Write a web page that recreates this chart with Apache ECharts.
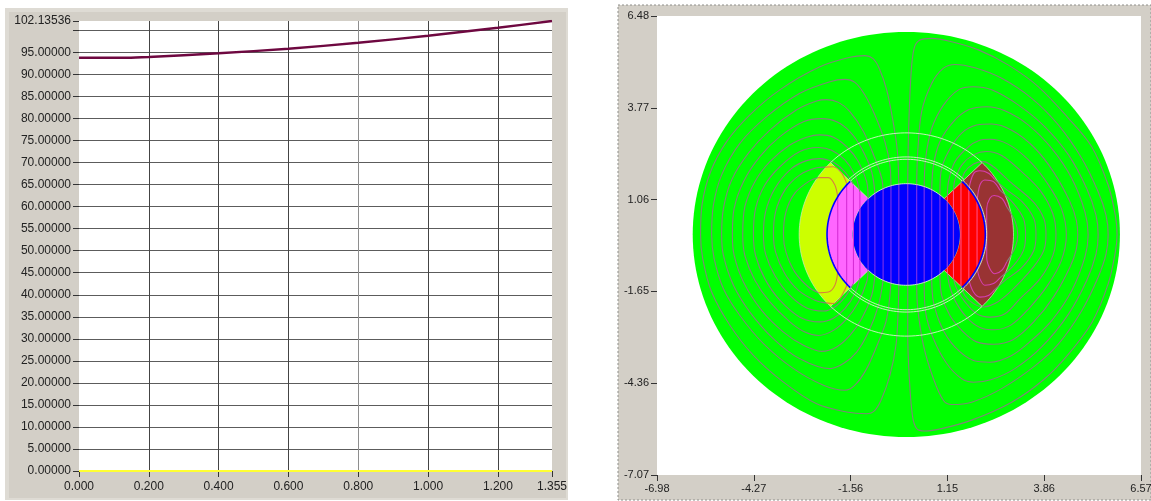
<!DOCTYPE html>
<html>
<head>
<meta charset="utf-8">
<title>Air gap curve and flux plot</title>
<script src="https://cdn.jsdelivr.net/npm/echarts@6/dist/echarts.min.js"></script>
<style>
  html, body { margin: 0; padding: 0; background: #fff; }
  #chart { width: 1151px; height: 501px; }
</style>
</head>
<body>
<div id="chart"></div>
<script>
// left plot
const curveX = [0, 0.1, 0.137, 0.2, 0.4, 0.6, 0.8, 1.0, 1.2, 1.355];
const curveY = [93.8, 93.8, 93.8, 93.96, 94.8, 95.85, 97.2, 98.8, 100.6, 102.13536];
const baseX = [0, 1.355];
const baseY = [0, 0];
const leftXTicks = [0, 0.2, 0.4, 0.6, 0.8, 1.0, 1.2, 1.355];
const leftYTicks = [0, 5, 10, 15, 20, 25, 30, 35, 40, 45, 50, 55, 60, 65, 70, 75, 80, 85, 90, 95, 100, 102.13536];
const leftYLabels = leftYTicks.filter((v) => v !== 100);

// right plot
const rightXTicks = [-6.98, -4.27, -1.56, 1.15, 3.86, 6.57];
const rightYTicks = [-7.07, -4.36, -1.65, 1.06, 3.77, 6.48];
const fieldCentre = [0, 0.03];

// regions: inner radius, outer radius, from angle, to angle
const regionNames = ["stator", "leftMagnet", "rightMagnet", "leftPole", "rightPole", "rotor"];
const regionRows = [
  [0, 5.98, 0, 360],
  [2.22, 3.0, 135, 225],
  [2.22, 3.0, -45, 45],
  [1.5, 2.22, 135, 225],
  [1.5, 2.22, -45, 45],
  [0, 1.5, 0, 360]
];

// arcs: radius, from angle, to angle
const whiteArcs = [
  [3.0, 45, 135], [3.0, 225, 315],
  [2.22, 45, 135], [2.22, 225, 315],
  [2.29, 45, 135], [2.29, 225, 315],
  [2.25, -45, 45],
  [1.5, 45, 135], [1.5, 225, 315]
];
const blueArcs = [[2.22, 135, 225], [2.21, -45, 45]];

// flux lines over the green part
const loopL1 = [[-0.21,1.51],[-0.25,2.48],[-0.37,3.36],[-0.55,4.30],[-0.76,4.94],[-0.94,5.23],[-1.16,5.31],[-1.58,5.26],[-2.42,4.98],[-3.54,4.30],[-4.38,3.56],[-5.03,2.77],[-5.48,1.88],[-5.72,0.90],[-5.76,0.02],[-5.70,-0.68],[-5.45,-1.67],[-4.94,-2.65],[-4.28,-3.54],[-3.44,-4.33],[-2.51,-4.97],[-1.67,-5.21],[-1.11,-5.26],[-0.88,-5.16],[-0.69,-4.82],[-0.46,-4.13],[-0.29,-3.24],[-0.23,-2.26],[-0.21,-1.45]];
const loopL2 = [[-0.43,1.47],[-0.46,2.08],[-0.60,2.77],[-0.88,3.56],[-1.16,4.15],[-1.44,4.52],[-1.72,4.61],[-2.14,4.54],[-2.98,4.20],[-3.91,3.51],[-4.66,2.72],[-5.17,1.79],[-5.40,0.90],[-5.45,0.02],[-5.38,-0.68],[-5.12,-1.57],[-4.66,-2.36],[-4.00,-3.19],[-3.16,-3.93],[-2.32,-4.42],[-1.72,-4.57],[-1.44,-4.42],[-1.11,-3.93],[-0.78,-3.14],[-0.55,-2.46],[-0.43,-1.41]];
const loopL3 = [[-0.65,1.38],[-0.69,1.69],[-0.88,2.28],[-1.20,3.07],[-1.58,3.66],[-1.90,3.93],[-2.23,4.01],[-2.51,3.97],[-3.07,3.71],[-3.82,3.11],[-4.42,2.43],[-4.89,1.64],[-5.12,0.80],[-5.17,0.02],[-5.12,-0.59],[-4.84,-1.47],[-4.38,-2.26],[-3.72,-3.05],[-2.98,-3.64],[-2.14,-3.93],[-1.76,-3.78],[-1.39,-3.44],[-1.06,-2.85],[-0.78,-2.06],[-0.65,-1.32]];
const loopL4 = [[-0.88,1.24],[-0.97,1.88],[-1.25,2.57],[-1.58,3.07],[-1.95,3.36],[-2.37,3.45],[-2.88,3.36],[-3.54,2.92],[-4.10,2.33],[-4.56,1.59],[-4.82,0.80],[-4.87,0.02],[-4.82,-0.59],[-4.56,-1.37],[-4.05,-2.21],[-3.44,-2.85],[-2.88,-3.24],[-2.37,-3.42],[-1.95,-3.29],[-1.58,-2.95],[-1.25,-2.46],[-0.97,-1.77],[-0.88,-1.18]];
const loopL5 = [[-1.07,1.09],[-1.11,1.59],[-1.34,2.18],[-1.67,2.62],[-2.04,2.90],[-2.42,2.97],[-2.79,2.90],[-3.26,2.67],[-3.82,2.18],[-4.24,1.59],[-4.52,0.85],[-4.58,0.02],[-4.52,-0.59],[-4.24,-1.32],[-3.82,-1.96],[-3.26,-2.55],[-2.84,-2.85],[-2.46,-2.95],[-2.04,-2.80],[-1.67,-2.46],[-1.34,-1.96],[-1.11,-1.37],[-1.07,-1.03]];
const loopL6 = [[-1.30,1.29],[-1.44,1.79],[-1.72,2.23],[-2.09,2.52],[-2.46,2.60],[-2.98,2.48],[-3.54,2.03],[-3.96,1.49],[-4.22,0.80],[-4.28,0.02],[-4.22,-0.59],[-3.96,-1.28],[-3.54,-1.91],[-2.98,-2.41],[-2.42,-2.55],[-2.04,-2.44],[-1.72,-2.16],[-1.44,-1.72],[-1.30,-1.25]];
const loopL7 = [[-1.48,1.51],[-1.72,1.88],[-2.04,2.16],[-2.42,2.27],[-2.79,2.21],[-3.21,1.98],[-3.68,1.39],[-3.94,0.70],[-4.00,0.02],[-3.94,-0.54],[-3.68,-1.18],[-3.26,-1.77],[-2.79,-2.14],[-2.32,-2.23],[-2.00,-2.11],[-1.72,-1.82],[-1.48,-1.42]];
const loopL8 = [[-2.28,2.02],[-2.51,2.00],[-2.98,1.79],[-3.40,1.34],[-3.66,0.70],[-3.72,0.02],[-3.66,-0.49],[-3.40,-1.13],[-3.02,-1.62],[-2.56,-1.91],[-2.25,-1.99]];
const loopL9 = [[-2.46,1.71],[-2.74,1.59],[-3.12,1.25],[-3.37,0.70],[-3.44,0.02],[-3.37,-0.49],[-3.12,-1.08],[-2.74,-1.52],[-2.46,-1.69]];
const loopR1 = [[0.04,1.53],[0.06,2.97],[0.13,4.74],[0.22,5.53],[0.38,5.77],[0.71,5.82],[1.27,5.72],[2.02,5.48],[2.86,5.03],[3.70,4.39],[4.54,3.46],[5.19,2.62],[5.65,1.49],[5.85,0.60],[5.90,0.02],[5.85,-0.50],[5.65,-1.43],[5.20,-2.56],[4.54,-3.50],[3.85,-4.25],[2.95,-4.92],[1.83,-5.45],[0.99,-5.70],[0.52,-5.77],[0.29,-5.70],[0.17,-5.31],[0.08,-4.13],[0.04,-2.95],[0.04,-1.47]];
const loopR2 = [[0.29,1.50],[0.32,2.48],[0.43,3.66],[0.71,4.49],[1.04,4.94],[1.36,5.05],[1.92,4.95],[2.67,4.64],[3.51,4.05],[4.26,3.26],[4.91,2.28],[5.37,1.29],[5.59,0.60],[5.65,0.02],[5.59,-0.55],[5.37,-1.23],[4.91,-2.22],[4.26,-3.20],[3.60,-3.85],[2.67,-4.52],[1.83,-4.92],[1.27,-4.99],[1.04,-4.87],[0.76,-4.23],[0.48,-3.24],[0.32,-2.16],[0.29,-1.44]];
const loopR3 = [[0.50,1.44],[0.54,2.28],[0.71,3.16],[1.04,3.85],[1.46,4.30],[1.88,4.39],[2.39,4.30],[3.14,3.85],[3.88,3.21],[4.54,2.38],[5.05,1.39],[5.31,0.60],[5.37,0.02],[5.31,-0.55],[5.05,-1.33],[4.54,-2.32],[3.79,-3.29],[3.04,-3.93],[2.39,-4.25],[1.88,-4.33],[1.55,-4.23],[1.13,-3.78],[0.76,-3.05],[0.54,-2.26],[0.50,-1.38]];
const loopR4 = [[0.71,1.35],[0.76,2.08],[0.94,2.77],[1.32,3.36],[1.74,3.71],[2.25,3.80],[2.76,3.68],[3.42,3.26],[4.07,2.57],[4.63,1.69],[5.00,0.70],[5.09,0.02],[5.00,-0.64],[4.63,-1.63],[4.07,-2.51],[3.50,-3.10],[2.95,-3.54],[2.34,-3.74],[1.88,-3.69],[1.36,-3.29],[0.99,-2.70],[0.76,-1.96],[0.71,-1.29]];
const loopR5 = [[0.94,1.20],[0.97,1.88],[1.18,2.48],[1.55,3.02],[1.97,3.26],[2.39,3.29],[2.95,3.11],[3.56,2.62],[4.12,1.88],[4.58,1.00],[4.76,0.45],[4.80,0.02],[4.76,-0.40],[4.58,-0.94],[4.12,-1.82],[3.56,-2.56],[3.00,-3.07],[2.44,-3.21],[1.97,-3.14],[1.60,-2.85],[1.22,-2.36],[0.99,-1.77],[0.94,-1.14]];
const loopR6 = [[1.15,1.15],[1.18,1.59],[1.36,2.18],[1.74,2.62],[2.02,2.80],[2.34,2.84],[2.86,2.69],[3.42,2.23],[3.95,1.54],[4.34,0.80],[4.48,0.02],[4.34,-0.74],[3.95,-1.48],[3.42,-2.17],[2.95,-2.63],[2.48,-2.78],[2.16,-2.75],[1.78,-2.51],[1.41,-2.01],[1.22,-1.52],[1.15,-1.12]];
const loopR7 = [[1.32,1.32],[1.36,1.64],[1.55,2.08],[1.88,2.38],[2.25,2.48],[2.67,2.36],[3.18,1.93],[3.74,1.34],[4.10,0.65],[4.19,0.02],[4.10,-0.60],[3.74,-1.28],[3.18,-1.87],[2.76,-2.31],[2.34,-2.41],[1.97,-2.31],[1.64,-1.96],[1.41,-1.57],[1.32,-1.27]];
const loopR8 = [[1.53,1.53],[1.64,1.88],[1.88,2.11],[2.16,2.18],[2.44,2.03],[2.90,1.59],[3.55,1.00],[3.85,0.50],[3.91,0.02],[3.85,-0.44],[3.55,-0.94],[2.90,-1.67],[2.48,-2.01],[2.16,-2.11],[1.88,-2.01],[1.64,-1.77],[1.53,-1.47]];
const loopR9 = [[2.46,1.67],[2.76,1.39],[3.24,1.00],[3.57,0.50],[3.63,0.02],[3.57,-0.44],[3.24,-0.94],[2.76,-1.33],[2.46,-1.61]];
const loopR10 = [[2.62,1.34],[3.00,0.95],[3.28,0.50],[3.34,0.02],[3.28,-0.44],[3.00,-0.89],[2.62,-1.25]];
const loopR11 = [[2.81,0.85],[3.05,0.41],[3.12,0.02],[3.05,-0.35],[2.81,-0.78]];
const greenLoops = [loopL1, loopL2, loopL3, loopL4, loopL5, loopL6, loopL7, loopL8, loopL9,
  loopR1, loopR2, loopR3, loopR4, loopR5, loopR6, loopR7, loopR8, loopR9, loopR10, loopR11];

// the same lines where they run through the magnets
const yellowArcs = [
  [[-2.28,2.02],[-2.04,2.03],[-1.81,1.84],[-1.67,1.54]],
  [[-2.25,-1.99],[-2.04,-2.01],[-1.86,-1.86],[-1.73,-1.62],[-1.67,-1.49]],
  [[-2.46,1.71],[-2.18,1.71],[-2.00,1.49],[-1.92,1.13]],
  [[-2.46,-1.69],[-2.18,-1.67],[-2.00,-1.47],[-1.92,-1.08]]
];
const brownArcs = [
  [[1.75,1.37],[1.88,1.82],[2.06,1.91],[2.30,1.84],[2.46,1.67]],
  [[2.46,-1.61],[2.30,-1.77],[2.06,-1.82],[1.88,-1.67],[1.75,-1.31]],
  [[1.98,1.00],[2.06,1.49],[2.20,1.64],[2.44,1.59],[2.62,1.34]],
  [[2.62,-1.25],[2.44,-1.42],[2.20,-1.47],[2.06,-1.28],[1.98,-0.96]],
  [[2.81,0.85],[2.67,1.10],[2.46,1.18],[2.34,1.10],[2.25,0.80],[2.25,0.02],[2.25,-0.64],[2.34,-0.98],[2.48,-1.13],[2.67,-1.03],[2.81,-0.78]]
];

// straight runs: x, top y, bottom y
const pinkRuns = [[-1.92,1.13,-1.08],[-1.67,1.54,-1.49],[-1.48,1.48,-1.42],[-1.30,1.29,-1.25]];
const redRuns = [[1.15,1.15,-1.12],[1.32,1.32,-1.27],[1.53,1.53,-1.47],[1.75,1.37,-1.31],[1.98,1.00,-0.96]];
const rotorRuns = [[-1.30,0.78,-0.72],[-1.07,1.09,-1.03],[-0.88,1.24,-1.18],[-0.65,1.38,-1.32],[-0.43,1.47,-1.41],[-0.21,1.51,-1.45],[0.04,1.53,-1.47],[0.29,1.50,-1.44],[0.50,1.44,-1.38],[0.71,1.35,-1.29],[0.94,1.20,-1.14],[1.15,0.99,-0.93],[1.32,0.74,-0.68]];

const regionColors = { stator: "#00ff00", leftMagnet: "#ccff00", rightMagnet: "#993333", leftPole: "#ff66ff", rightPole: "#ff0000", rotor: "#0000ff" };

const panelBg = "#d3cfc7";
const textCol = "#222";
const fontName = '"Liberation Sans", Arial, sans-serif';

function pointAt(api, r, deg) {
  const a = (deg * Math.PI) / 180;
  return api.coord([fieldCentre[0] + r * Math.cos(a), fieldCentre[1] + r * Math.sin(a)]);
}

function arcPoints(api, r, from, to) {
  const pts = [];
  const steps = Math.max(8, Math.round(Math.abs(to - from) / 2));
  for (let i = 0; i <= steps; i++) pts.push(pointAt(api, r, from + ((to - from) * i) / steps));
  return pts;
}

const regionSeries = {
  type: "custom",
  xAxisIndex: 1,
  yAxisIndex: 1,
  silent: true,
  clip: false,
  z: 2,
  data: regionRows,
  renderItem(params, api) {
    const name = regionNames[params.dataIndex];
    const row = regionRows[params.dataIndex];
    let pts = arcPoints(api, row[1], row[2], row[3]);
    if (row[0] > 0) pts = pts.concat(arcPoints(api, row[0], row[3], row[2]));
    const edged = row[0] > 0;
    return {
      type: "polygon",
      shape: { points: pts },
      style: { fill: regionColors[name], stroke: edged ? "#d4e6c6" : null, lineWidth: edged ? 0.7 : 0 }
    };
  }
};

function arcSeries(rows, color, width) {
  return {
    type: "custom",
    xAxisIndex: 1,
    yAxisIndex: 1,
    silent: true,
    clip: false,
    z: 5,
    data: rows,
    renderItem(params, api) {
      const row = rows[params.dataIndex];
      return {
        type: "polyline",
        shape: { points: arcPoints(api, row[0], row[1], row[2]) },
        style: { fill: null, stroke: color, lineWidth: width }
      };
    }
  };
}

function fieldLine(points, color, z) {
  return {
    type: "line",
    xAxisIndex: 1,
    yAxisIndex: 1,
    data: points,
    smooth: 0.33,
    symbol: "none",
    silent: true,
    z: z,
    lineStyle: { color: color, width: 1.1 }
  };
}

function runLines(runs, color, z) {
  return runs.map((r) => fieldLine([[r[0], r[1]], [r[0], r[2]]], color, z));
}

const tickStyle = { show: true, length: 6, lineStyle: { color: "#333", width: 1 } };
const hiddenLine = { show: false, onZero: false };

const option = {
  animation: false,
  backgroundColor: "#fff",
  textStyle: { fontFamily: fontName },
  graphic: [
    { type: "rect", z: -10, shape: { x: 5, y: 8, width: 563, height: 492 }, style: { fill: "#dedbd4" } },
    { type: "rect", z: -9, shape: { x: 9, y: 12, width: 557, height: 486 }, style: { fill: panelBg } },
    { type: "rect", z: -10, shape: { x: 618, y: 5, width: 533, height: 495 }, style: { fill: panelBg, stroke: "#8f8f8b", lineWidth: 1, lineDash: [2, 2] } }
  ],
  grid: [
    { left: 79, top: 21, width: 473, height: 450, show: true, backgroundColor: "#fff", borderWidth: 0, outerBoundsMode: "none" },
    { left: 657, top: 16, width: 484, height: 459, show: true, backgroundColor: "#fff", borderWidth: 0, outerBoundsMode: "none" }
  ],
  xAxis: [
    {
      type: "value", gridIndex: 0, min: 0, max: 1.355,
      axisLine: hiddenLine,
      axisTick: Object.assign({ customValues: leftXTicks }, tickStyle),
      axisLabel: { customValues: leftXTicks, color: textCol, fontSize: 12, margin: 10, fontFamily: fontName, formatter: (v) => v.toFixed(3) },
      splitLine: { show: true, showMinLine: false, showMaxLine: false, lineStyle: { color: ["#444", "#444", "#444", "#8e8e8e", "#444", "#444", "#8e8e8e", "#444"], width: 1 } }
    },
    {
      type: "value", gridIndex: 1, min: -6.98, max: 6.57,
      axisLine: hiddenLine,
      axisTick: Object.assign({ customValues: rightXTicks }, tickStyle),
      axisLabel: { customValues: rightXTicks, color: textCol, fontSize: 11, margin: 8, fontFamily: fontName, formatter: (v) => v.toFixed(2) },
      splitLine: { show: false }
    }
  ],
  yAxis: [
    {
      type: "value", gridIndex: 0, min: 0, max: 102.13536,
      axisLine: hiddenLine,
      axisTick: Object.assign({ customValues: leftYTicks }, tickStyle),
      axisLabel: { customValues: leftYLabels, color: textCol, fontSize: 12, margin: 8, fontFamily: fontName, formatter: (v) => v.toFixed(5) },
      splitLine: { show: true, showMinLine: false, showMaxLine: false, lineStyle: { color: "#5c5c5c", width: 1 } }
    },
    {
      type: "value", gridIndex: 1, min: -7.07, max: 6.48,
      axisLine: hiddenLine,
      axisTick: Object.assign({ customValues: rightYTicks }, tickStyle),
      axisLabel: { customValues: rightYTicks, color: textCol, fontSize: 11, margin: 8, fontFamily: fontName, formatter: (v) => v.toFixed(2) },
      splitLine: { show: false }
    }
  ],
  series: [
    {
      type: "line", xAxisIndex: 0, yAxisIndex: 0, symbol: "none", silent: true, smooth: 0.3, z: 4,
      data: curveX.map((x, i) => [x, curveY[i]]),
      lineStyle: { color: "#6e0840", width: 2.4 }
    },
    {
      type: "line", xAxisIndex: 0, yAxisIndex: 0, symbol: "none", silent: true, z: 5, clip: false,
      data: baseX.map((x, i) => [x, baseY[i]]),
      lineStyle: { color: "#ffff33", width: 2 }
    },
    regionSeries,
    ...greenLoops.map((l) => fieldLine(l, "#7f8578", 3)),
    ...yellowArcs.map((l) => fieldLine(l, "#d8803c", 3)),
    ...brownArcs.map((l) => fieldLine(l, "#d63fb0", 3)),
    ...runLines(pinkRuns, "#d62ed6", 3),
    ...runLines(redRuns, "#ff4d88", 3),
    ...runLines(rotorRuns, "#8030e8", 3),
    arcSeries(whiteArcs, "#d8f0cc", 0.9),
    arcSeries(blueArcs, "#0000ff", 1.6)
  ]
};

const inst = echarts.init(document.getElementById("chart"), null, { renderer: "canvas" });
inst.setOption(option);
</script>
</body>
</html>
